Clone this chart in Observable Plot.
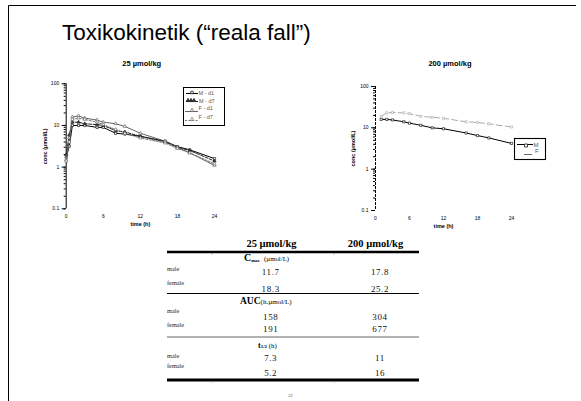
<!DOCTYPE html>
<html><head><meta charset="utf-8">
<script src="https://cdn.jsdelivr.net/npm/d3@7"></script>
<script src="https://cdn.jsdelivr.net/npm/@observablehq/plot@0.6"></script>
<style>
html,body{margin:0;padding:0;background:#fff;}
#slide{position:relative;width:581px;height:401px;overflow:hidden;background:#fff;}
.chart{position:absolute;}
.chart svg{overflow:visible;}
.chart svg g[aria-label="y-axis label"] text,.chart svg g[aria-label="x-axis label"] text{font-weight:bold;font-size:5.5px;}
#overlay{position:absolute;left:0;top:0;pointer-events:none;}
</style></head><body><div id="slide"></div>
<script>
// ---------- data ----------
const slideTitle = "Toxikokinetik (“reala fall”)";
const doseLabels = ["25 µmol/kg", "200 µmol/kg"];
const xTicks = [0, 6, 12, 18, 24];
const yMajor = [0.1, 1, 10, 100];

const times25 = [0, 0.5, 1, 2, 3, 5, 6, 8, 9.5, 12, 16, 18, 20, 24];
const series25 = ["M - d1", "M - d7", "F - d1", "F - d7"];
const m_d1 = [1.7, 3.2, 10, 10, 10, 9, 9, 6.5, 6.2, 5.5, 4.2, 3.1, 2.6, 1.6];
const m_d7 = [2, 6, 12, 12, 11, 10.5, 10, 7.5, 7, 5.5, 4, 3, 2.5, 1.4];
const f_d1 = [1.5, 5, 16, 17, 15, 13.5, 12, 11, 9.5, 6.5, 4.2, 3, 2.2, 1.1];
const f_d7 = [1.4, 4, 14, 15, 14, 12, 10.5, 8, 6.5, 5, 3.8, 2.8, 2.2, 1.2];

const times200 = [1, 2, 3, 5, 6, 8, 10, 12, 16, 18, 20, 24];
const series200 = ["M", "F"];
const m200 = [16, 16, 15.5, 14, 13, 11.5, 10, 9.5, 7.5, 6.5, 5.7, 4.2];
const f200 = [19, 23, 23.5, 23, 22, 19, 18, 17, 14, 13.5, 12.5, 10.5];

const rowLabels = ["male", "female"];
const cmax25 = ["11.7", "18.3"], cmax200 = ["17.8", "25.2"];
const auc25 = ["158", "191"], auc200 = ["304", "677"];
const thalf25 = ["7.3", "5.2"], thalf200 = ["11", "16"];
const pageNumber = "22";

// ---------- helpers ----------
const yMinor = [];
for (const p of [0.1, 1, 10]) for (let k = 1; k <= 9; k++) yMinor.push(+(p * k).toPrecision(2));
yMinor.push(100);

const rows = (times, vals, name) => times.map((t, i) => ({t, c: vals[i], s: name}));

const styles = {
  "M - d1": {stroke: "#000", dash: null, sym: "square", fill: "white", sw: 1},
  "M - d7": {stroke: "#222", dash: "3,1.5", sym: "triangle", fill: "#333", sw: 1},
  "F - d1": {stroke: "#555", dash: null, sym: "triangle", fill: "white", sw: 0.9},
  "F - d7": {stroke: "#666", dash: "2,1.5", sym: "triangle", fill: "white", sw: 0.9},
  "M": {stroke: "#000", dash: null, sym: "square", fill: "white", sw: 1},
  "F": {stroke: "#aaa", dash: "6,3", sym: "square", fill: "white", sw: 1}
};

function makeChart(data, names, opts) {
  const marks = [
    Plot.axisY({ticks: yMinor, tickSize: 2, tickFormat: () => "", label: null}),
    Plot.axisY({ticks: yMajor, tickSize: 4, tickPadding: 3, tickFormat: d => String(d),
      label: "conc (µmol/L)", labelAnchor: "center", labelArrow: "none", labelOffset: opts.labelOffsetY}),
    Plot.axisX({ticks: xTicks, tickSize: 0, tickPadding: 6, label: "time (h)",
      labelAnchor: "center", labelArrow: "none", labelOffset: 17}),
    Plot.ruleX([0], {stroke: "#000", strokeWidth: 1, strokeDasharray: opts.axisDash})
  ];
  for (const n of names) {
    const st = styles[n];
    const d = data.filter(r => r.s === n);
    marks.push(Plot.line(d, {x: "t", y: "c", stroke: st.stroke, strokeWidth: st.sw, strokeDasharray: st.dash}));
    marks.push(Plot.dot(d, {x: "t", y: "c", symbol: st.sym, r: 1.25, stroke: st.stroke, fill: st.fill, strokeWidth: 0.6}));
  }
  return Plot.plot({
    width: opts.width, height: opts.height,
    marginLeft: opts.ml, marginRight: opts.mr, marginTop: opts.mt, marginBottom: opts.mb,
    x: {domain: [0, 24]},
    y: {type: "log", domain: [0.1, 100]},
    style: {fontFamily: "'Liberation Sans', Arial, sans-serif", fontSize: "5px", background: "transparent", color: "#000"},
    marks
  });
}

const slide = document.getElementById("slide");

// left chart
const data25 = [
  ...rows(times25, m_d1, "M - d1"), ...rows(times25, m_d7, "M - d7"),
  ...rows(times25, f_d1, "F - d1"), ...rows(times25, f_d7, "F - d7")
];
const c1 = makeChart(data25, series25, {width: 230, height: 160, ml: 45.7, mr: 36, mt: 8.3, mb: 26.7, labelOffsetY: 23, axisDash: null});
const w1 = document.createElement("div"); w1.className = "chart"; w1.style.left = "20px"; w1.style.top = "75px";
w1.appendChild(c1); slide.appendChild(w1);

// right chart
const data200 = [...rows(times200, m200, "M"), ...rows(times200, f200, "F")];
const c2 = makeChart(data200, series200, {width: 250, height: 160, ml: 65, mr: 49, mt: 11, mb: 25, labelOffsetY: 24, axisDash: "3,1"});
const w2 = document.createElement("div"); w2.className = "chart"; w2.style.left = "310px"; w2.style.top = "75px";
w2.appendChild(c2); slide.appendChild(w2);

// ---------- overlay (frame, titles, legends, table) ----------
const svg = d3.select(slide).append("svg").attr("id", "overlay").attr("width", 581).attr("height", 401);
const sans = "'Liberation Sans', Arial, sans-serif";
const serif = "'Liberation Serif', 'Times New Roman', serif";

// frame
svg.append("path").attr("d", "M8.5,401 V5.5 H576").attr("fill", "none").attr("stroke", "#000").attr("stroke-width", 1);

// title
svg.append("text").attr("x", 62).attr("y", 40).attr("font-family", sans).attr("font-size", 22.5).attr("fill", "#000").text(slideTitle);

// chart titles
svg.append("text").attr("x", 141.7).attr("y", 66).attr("text-anchor", "middle").attr("font-family", sans)
  .attr("font-weight", "bold").attr("font-size", 7.5).text(doseLabels[0]);
svg.append("text").attr("x", 450).attr("y", 66).attr("text-anchor", "middle").attr("font-family", sans)
  .attr("font-weight", "bold").attr("font-size", 7.5).text(doseLabels[1]);

function sym(g, type, x, y, st, size) {
  g.append("path").attr("d", d3.symbol(type === "square" ? d3.symbolSquare : d3.symbolTriangle, size || 9)())
    .attr("transform", `translate(${x},${y})`).attr("stroke", st.stroke).attr("stroke-width", 0.7).attr("fill", st.fill);
}

// left legend
const lg = svg.append("g");
lg.append("rect").attr("x", 183.5).attr("y", 87.5).attr("width", 41).attr("height", 38).attr("fill", "white").attr("stroke", "#000").attr("stroke-width", 1);
const lrows = [
  {n: "M - d1", ly: 93.5, ty: 94.5, x1: 186, x2: 198, tx: 198.5, marks: [192]},
  {n: "M - d7", ly: 101.5, ty: 102.5, x1: 186, x2: 198, tx: 199, marks: [188, 191, 194]},
  {n: "F - d1", ly: 111.5, ty: 110, x1: 185, x2: 198, tx: 198.5, marks: [192]},
  {n: "F - d7", ly: 120.5, ty: 119, x1: 185, x2: 198, tx: 198.5, marks: [192]}
];
for (const r of lrows) {
  const st = styles[r.n];
  lg.append("line").attr("x1", r.x1).attr("x2", r.x2).attr("y1", r.ly).attr("y2", r.ly)
    .attr("stroke", st.stroke).attr("stroke-width", st.sw).attr("stroke-dasharray", st.dash);
  for (const mx of r.marks) sym(lg, st.sym, mx, r.ly - 1, st, 6);
  lg.append("text").attr("x", r.tx).attr("y", r.ty).attr("font-family", sans).attr("font-size", 5.5).attr("fill", "#555").text(r.n);
}

// right legend
const rg = svg.append("g");
rg.append("rect").attr("x", 514.5).attr("y", 138.5).attr("width", 31).attr("height", 21).attr("fill", "white").attr("stroke", "#000").attr("stroke-width", 1.1);
rg.append("line").attr("x1", 517).attr("x2", 533).attr("y1", 144.5).attr("y2", 144.5).attr("stroke", "#000").attr("stroke-width", 1);
sym(rg, "square", 526, 145.5, styles["M"], 9);
rg.append("text").attr("x", 533.5).attr("y", 147).attr("font-family", sans).attr("font-size", 6).attr("fill", "#555").text("M");
rg.append("line").attr("x1", 524).attr("x2", 532).attr("y1", 154.5).attr("y2", 154.5).attr("stroke", "#666").attr("stroke-width", 1);
rg.append("text").attr("x", 535).attr("y", 152.5).attr("font-family", sans).attr("font-size", 6).attr("fill", "#555").text("F");

// table
const tb = svg.append("g").attr("font-family", serif);
const colX = [270.7, 380];
tb.append("text").attr("x", 271.5).attr("y", 247.3).attr("text-anchor", "middle").attr("font-weight", "bold").attr("font-size", 10.5).text(doseLabels[0]);
tb.append("text").attr("x", 375.5).attr("y", 247.3).attr("text-anchor", "middle").attr("font-weight", "bold").attr("font-size", 10.5).text(doseLabels[1]);
const hline = (y, w, col) => tb.append("line").attr("x1", 167).attr("x2", 419).attr("y1", y).attr("y2", y).attr("stroke", col).attr("stroke-width", w);
hline(252, 2.6, "#000");
hline(293.5, 1, "#000");
hline(337, 1, "#666");
hline(380, 3, "#000");
for (const tx of [212, 334]) {
  tb.append("line").attr("x1", tx).attr("x2", tx).attr("y1", 253).attr("y2", 255).attr("stroke", "#999").attr("stroke-width", 0.6);
  tb.append("line").attr("x1", tx).attr("x2", tx).attr("y1", 381).attr("y2", 383).attr("stroke", "#999").attr("stroke-width", 0.6);
}
// section headers
const h1 = tb.append("text").attr("x", 244).attr("y", 260.7);
h1.append("tspan").attr("font-weight", "bold").attr("font-size", 10).text("C");
h1.append("tspan").attr("font-weight", "bold").attr("font-size", 4.5).attr("dy", 1).text("max");
h1.append("tspan").attr("font-size", 6.8).attr("dy", -1).attr("x", 264).text("(µmol/L)");
const h2 = tb.append("text").attr("x", 240).attr("y", 304);
h2.append("tspan").attr("font-weight", "bold").attr("font-size", 9.5).text("AUC");
h2.append("tspan").attr("font-size", 7).text("(h.µmol/L)");
const h3 = tb.append("text").attr("x", 258).attr("y", 348.3);
h3.append("tspan").attr("font-weight", "bold").attr("font-size", 8).text("t");
h3.append("tspan").attr("font-weight", "bold").attr("font-size", 5).text("1/2");
h3.append("tspan").attr("font-size", 6.8).text(" (h)");

const sections = [
  {labY: [270.7, 285], valY: [275, 291.7], v: [cmax25, cmax200]},
  {labY: [313.3, 326.7], valY: [320, 331.7], v: [auc25, auc200]},
  {labY: [358.3, 368.3], valY: [360.7, 376], v: [thalf25, thalf200]}
];
for (const s of sections) {
  rowLabels.forEach((lab, i) => {
    tb.append("text").attr("x", 167).attr("y", s.labY[i]).attr("font-size", 6.3).attr("fill", "#222").text(lab);
    s.v.forEach((col, j) => {
      tb.append("text").attr("x", colX[j]).attr("y", s.valY[i]).attr("text-anchor", "middle")
        .attr("font-size", 9).attr("letter-spacing", 0.6).attr("fill", "#111").text(col[i]);
    });
  });
}

// page number
svg.append("text").attr("x", 290.5).attr("y", 397).attr("text-anchor", "middle").attr("font-family", sans).attr("font-size", 4).attr("fill", "#555").text(pageNumber);
</script>
</body></html>
